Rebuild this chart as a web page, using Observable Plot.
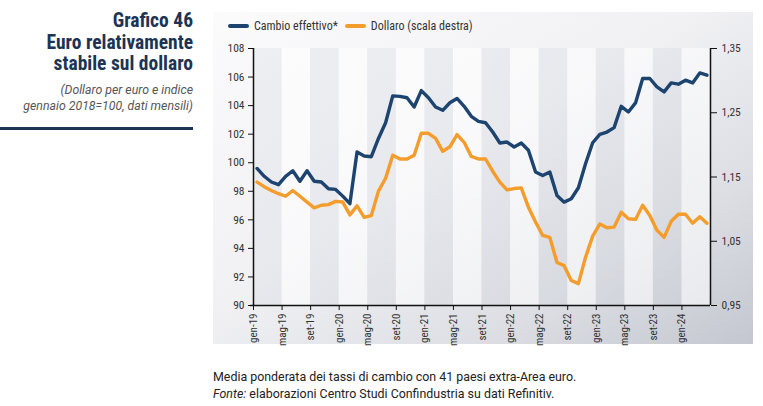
<!DOCTYPE html>
<html>
<head>
<meta charset="utf-8">
<script src="https://cdn.jsdelivr.net/npm/d3@7"></script>
<script src="https://cdn.jsdelivr.net/npm/@observablehq/plot@0.6"></script>
<style>
  html, body { margin: 0; padding: 0; background: #fff; }
  body { width: 763px; height: 406px; position: relative; overflow: hidden; font-family: Roboto, "Noto Sans", sans-serif; }
  .narrow { font-family: "Liberation Sans Narrow", "Roboto Condensed", Roboto, sans-serif; }
  #titlebox { position: absolute; left: 0; top: 10px; width: 193px; text-align: right; color: #1c3453; }
  #title { font-weight: bold; font-size: 19.5px; line-height: 21.5px; }
  #subtitle { margin-top: 7px; font-style: italic; font-size: 12.3px; line-height: 16.5px; color: #555; font-family: Roboto, sans-serif; }
  #rule { position: absolute; left: 0; top: 127px; width: 193px; height: 2.5px; background: #1c3453; }
  #panel { position: absolute; left: 213px; top: 12px; width: 540px; height: 332px;
           background: linear-gradient(to bottom right, #fbfbfc 0%, #f1f1f4 45%, #dcdee3 75%, #c4c7d0 100%); }
  #legend { position: absolute; left: 228px; top: 19px; font-size: 12px; color: #333; display: flex; align-items: center; }
  .sw { display: inline-block; width: 21px; height: 4px; border-radius: 2px; margin-right: 5px; }
  .item { display: flex; align-items: center; margin-right: 7px; }
  #chart { position: absolute; left: 213px; top: 12px; }
  #caption { position: absolute; left: 213px; top: 368px; font-size: 12.4px; line-height: 17px; color: #222; }
</style>
</head>
<body>
<div id="titlebox">
  <div id="title" class="narrow">Grafico 46<br>Euro relativamente<br>stabile sul dollaro</div>
  <div id="subtitle">(Dollaro per euro e indice<br>gennaio 2018=100, dati mensili)</div>
</div>
<div id="rule"></div>
<div id="panel"></div>
<div id="chart"></div>
<div id="legend" class="narrow">
  <span class="item"><span class="sw" style="background:#1d446f"></span>Cambio effettivo*</span>
  <span class="item"><span class="sw" style="background:#f49d2c"></span>Dollaro (scala destra)</span>
</div>
<div id="caption">Media ponderata dei tassi di cambio con 41 paesi extra-Area euro.<br><i>Fonte:</i> elaborazioni Centro Studi Confindustria su dati Refinitiv.</div>
<script>
// Monthly data, gen-2019 .. apr-2024
const cambio = [
  99.6, 99.05, 98.65, 98.46, 99.05, 99.44, 98.7, 99.44, 98.7, 98.65, 98.18, 98.13,
  97.66, 97.13, 100.75, 100.47, 100.42, 101.7, 102.8, 104.68, 104.65, 104.55, 103.9, 105.05,
  104.55, 103.9, 103.67, 104.2, 104.5, 103.95, 103.25, 102.9, 102.8, 102.15, 101.38, 101.45,
  101.1, 101.38, 100.87, 99.35, 99.1, 99.35, 97.7, 97.24, 97.48, 98.25, 99.93, 101.4,
  101.99, 102.15, 102.46, 103.95, 103.55, 104.19, 105.9, 105.9, 105.31, 104.96, 105.59, 105.5,
  105.78, 105.59, 106.29, 106.13
];
const dollaro = [
  1.142, 1.135, 1.129, 1.124, 1.120, 1.129, 1.120, 1.111, 1.102, 1.106, 1.107, 1.112,
  1.111, 1.091, 1.105, 1.087, 1.090, 1.128, 1.148, 1.184, 1.178, 1.178, 1.184, 1.218,
  1.218, 1.210, 1.190, 1.197, 1.216, 1.204, 1.182, 1.178, 1.178, 1.159, 1.142, 1.130,
  1.132, 1.133, 1.103, 1.080, 1.059, 1.056, 1.017, 1.012, 0.989, 0.984, 1.025, 1.058,
  1.077, 1.071, 1.072, 1.095, 1.085, 1.084, 1.106, 1.090, 1.067, 1.056, 1.081, 1.092,
  1.092, 1.078, 1.088, 1.078
];
const xTickLabels = ["gen-19","mag-19","set-19","gen-20","mag-20","set-20","gen-21","mag-21","set-21",
                     "gen-22","mag-22","set-22","gen-23","mag-23","set-23","gen-24"];
const leftTicks = [90, 92, 94, 96, 98, 100, 102, 104, 106, 108];
const rightTicks = [0.95, 1.05, 1.15, 1.25, 1.35];

const L0 = 90, L1 = 108, R0 = 0.95, R1 = 1.35;
const toLeft = v => L0 + (v - R0) / (R1 - R0) * (L1 - L0);
const toRight = v => R0 + (v - L0) / (L1 - L0) * (R1 - R0);

const nMonths = cambio.length;
const data = cambio.map((v, i) => ({x: i + 0.5, cambio: v, dollaro: dollaro[i]}));
const xTickPos = xTickLabels.map((_, k) => k * 4);
const bands = xTickPos.map((p, k) => ({x1: p, x2: p + 4, light: k % 2 === 1}));

const chart = Plot.plot({
  width: 540,
  height: 350,
  marginLeft: 40,
  marginRight: 43,
  marginTop: 36,
  marginBottom: 57,
  style: {background: "transparent", fontFamily: "'Liberation Sans Narrow', 'Roboto Condensed', Roboto, sans-serif", fontSize: "11.5px", color: "#333"},
  x: {domain: [0, nMonths], axis: null},
  y: {domain: [L0, L1], axis: null},
  marks: [
    Plot.rect(bands.filter(d => d.light), {x1: "x1", x2: "x2", y1: () => L0, y2: () => L1, fill: "#ffffff", fillOpacity: 0.55}),
    Plot.rect(bands.filter(d => !d.light), {x1: "x1", x2: "x2", y1: () => L0, y2: () => L1, fill: "#c9ccd6", fillOpacity: 0.22}),
    Plot.line(data, {x: "x", y: d => toLeft(d.dollaro), stroke: "#f49d2c", strokeWidth: 3.4, strokeLinejoin: "round"}),
    Plot.line(data, {x: "x", y: "cambio", stroke: "#1d446f", strokeWidth: 3.4, strokeLinejoin: "round"}),
    Plot.axisY(leftTicks, {anchor: "left", label: null, tickSize: 5, tickPadding: 4, stroke: "#111", tickFormat: d => String(d)}),
    Plot.axisY(rightTicks.map(toLeft), {anchor: "right", label: null, tickSize: 6, tickPadding: 5, stroke: "#111",
      tickFormat: d => toRight(d).toFixed(2).replace(".", ",")}),
    Plot.axisX(xTickPos, {anchor: "bottom", label: null, tickSize: 5, tickPadding: 3, tickRotate: -90, stroke: "#111",
      fontSize: 11, tickFormat: d => xTickLabels[d / 4]}),
    Plot.ruleX([0, nMonths], {stroke: "#111", strokeWidth: 1.5}),
    Plot.ruleY([L0], {x1: () => -0.4, x2: () => nMonths, stroke: "#111", strokeWidth: 1.5})
  ]
});
document.getElementById("chart").appendChild(chart);
</script>
</body>
</html>
